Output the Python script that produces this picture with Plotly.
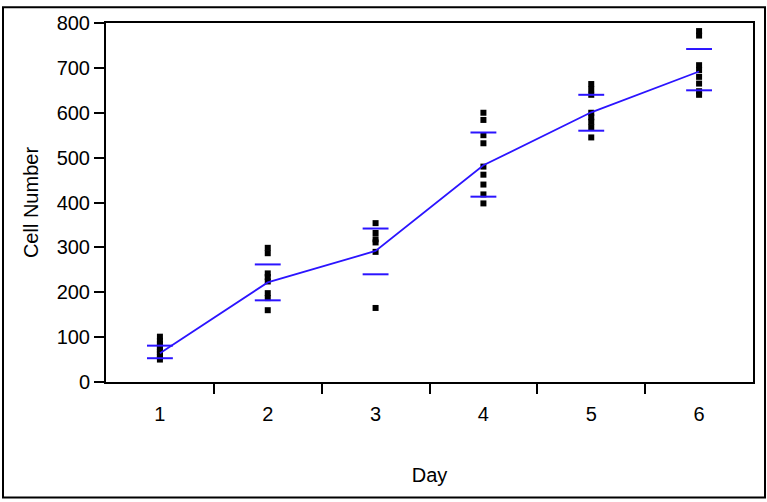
import plotly.graph_objects as go

# ---- data ----
days = [1, 2, 3, 4, 5, 6]
cells_day1 = [50, 56, 62, 67, 72, 78, 85, 92, 101]
cells_day2 = [299, 287, 242, 234, 224, 198, 187, 160]
cells_day3 = [354, 332, 318, 311, 290, 165]
cells_day4 = [600, 584, 550, 532, 480, 462, 440, 418, 398]
cells_day5 = [664, 652, 640, 600, 590, 580, 568, 545]
cells_day6 = [782, 772, 706, 695, 680, 665, 648, 640]
mean_cells = [64, 222, 292, 483, 601, 692]
upper_bar = [81, 262, 342, 556, 640, 742]
lower_bar = [53, 182, 240, 413, 560, 650]

y_ticks = [0, 100, 200, 300, 400, 500, 600, 700, 800]
x_labels = ["1", "2", "3", "4", "5", "6"]
x_dividers = [1.5, 2.5, 3.5, 4.5, 5.5]

BLUE = "#2b14ff"
BAR_HALF = 0.12

all_points = [cells_day1, cells_day2, cells_day3, cells_day4, cells_day5, cells_day6]

fig = go.Figure()

# black raw points
px, py = [], []
for d, vals in zip(days, all_points):
    px += [d] * len(vals)
    py += vals
fig.add_trace(go.Scatter(x=px, y=py, mode="markers",
                         marker=dict(symbol="square", size=6, color="black"),
                         showlegend=False, hoverinfo="y"))

# upper / lower bars
bx, by = [], []
for d, u, l in zip(days, upper_bar, lower_bar):
    bx += [d - BAR_HALF, d + BAR_HALF, None, d - BAR_HALF, d + BAR_HALF, None]
    by += [u, u, None, l, l, None]
fig.add_trace(go.Scatter(x=bx, y=by, mode="lines",
                         line=dict(color=BLUE, width=2),
                         showlegend=False, hoverinfo="skip"))

# mean line
fig.add_trace(go.Scatter(x=days, y=mean_cells, mode="lines",
                         line=dict(color=BLUE, width=1.8),
                         showlegend=False))

font = "Liberation Sans, Arial, sans-serif"

fig.update_layout(
    width=767, height=502,
    margin=dict(l=106, r=14, t=18, b=120),
    paper_bgcolor="white", plot_bgcolor="white",
    font=dict(family=font, size=20, color="black"),
    xaxis=dict(
        range=[0.5, 6.5], tickvals=days, ticktext=x_labels,
        ticks="outside", ticklen=13, tickcolor="rgba(0,0,0,0)",
        minor=dict(tickmode="array", tickvals=x_dividers, ticks="outside",
                   ticklen=10, tickcolor="black", tickwidth=1.5, showgrid=False),
        showgrid=False, zeroline=False,
        showline=True, linecolor="black", linewidth=2, mirror=True,
        title=dict(text="Day", standoff=44, font=dict(size=20)),
        tickfont=dict(size=20),
    ),
    yaxis=dict(
        range=[0, 800], tickvals=y_ticks,
        ticks="outside", ticklen=10, tickcolor="black", tickwidth=1.5,
        showgrid=False, zeroline=False,
        showline=True, linecolor="black", linewidth=2, mirror=True,
        title=dict(text="Cell Number", standoff=13, font=dict(size=20)),
        tickfont=dict(size=20),
    ),
)

# outer frame around the whole picture
fig.add_shape(type="rect", xref="paper", yref="paper",
              x0=(3 - 106) / 647, x1=(765 - 106) / 647,
              y0=(382 - 499) / 364, y1=(382 - 2) / 364,
              line=dict(color="black", width=2), layer="below")

fig.write_html("out.html",
               config={"displayModeBar": False},
               post_script="document.body.style.margin='0px';document.body.style.overflow='hidden';")
